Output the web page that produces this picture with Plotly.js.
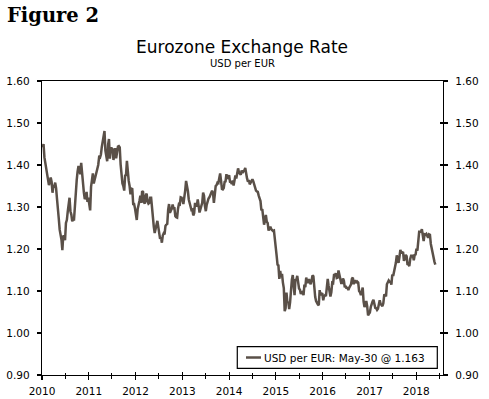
<!DOCTYPE html>
<html>
<head>
<meta charset="utf-8">
<script src="https://cdn.plot.ly/plotly-3.0.1.min.js"></script>
<style>html,body{margin:0;padding:0;background:#fff;}#chart{width:489px;height:399px;}</style>
</head>
<body>
<div id="chart"></div>
<script>
// Weekly USD per EUR (Wednesdays), first observation 2010-01-06, last 2018-05-30
const startDate = '2010-01-06';
const seriesName = 'USD per EUR';
const usd2010 = [1.442,1.450,1.418,1.405, 1.392,1.374,1.358,1.352, 1.362,1.370,1.360,1.334,1.350, 1.349,1.358,1.345,1.320,
  1.285,1.272,1.246,1.236, 1.222,1.197,1.232,1.230,1.221, 1.262,1.269,1.289,1.305, 1.322,1.290,1.282,1.266,
  1.270,1.270,1.308,1.338,1.364, 1.385,1.398,1.387,1.378, 1.405,1.375,1.356,1.334, 1.319,1.322,1.336,1.312,1.322];
const usd2011 = [1.308,1.292,1.348,1.371, 1.380,1.356,1.366,1.378, 1.389,1.391,1.400,1.419,1.418, 1.425,1.443,1.453,1.466,
  1.481,1.434,1.421,1.409, 1.448,1.462,1.415,1.440,1.440, 1.438,1.412,1.425,1.440, 1.416,1.434,1.444,1.445,1.442,
  1.401,1.368,1.356,1.350, 1.339,1.375,1.376,1.410, 1.380,1.362,1.350,1.330,1.344, 1.343,1.307,1.307,1.297];
const usd2012 = [1.280,1.269,1.295,1.310, 1.315,1.327,1.310,1.338,1.336, 1.311,1.308,1.327,1.332, 1.313,1.308,1.310,1.322,
  1.322,1.292,1.270,1.253,1.238, 1.252,1.258,1.267,1.248, 1.240,1.224,1.228,1.215, 1.232,1.237,1.235,1.255,1.258,
  1.260,1.293,1.307,1.286, 1.290,1.296,1.306,1.297,1.297, 1.278,1.276,1.275,1.296, 1.307,1.306,1.323,1.322];
const usd2013 = [1.317,1.307,1.334,1.339,1.362, 1.352,1.338,1.318,1.308, 1.304,1.293,1.294,1.280, 1.285,1.310,1.303,1.303,
  1.318,1.303,1.287,1.295,1.306, 1.310,1.334,1.327,1.303, 1.290,1.305,1.315,1.320,1.323, 1.330,1.333,1.339,1.334,
  1.310,1.329,1.350,1.352, 1.358,1.357,1.368,1.380,1.363, 1.343,1.342,1.345,1.360, 1.361,1.378,1.367,1.370];
const usd2014 = [1.376,1.360,1.359,1.355,1.363, 1.351,1.361,1.375,1.368, 1.383,1.392,1.382,1.378, 1.377,1.387,1.381,1.385,1.387,
  1.393,1.374,1.368,1.360, 1.364,1.354,1.359,1.362, 1.366,1.361,1.353,1.346,1.339, 1.337,1.336,1.327,1.319,
  1.314,1.292,1.295,1.276, 1.258,1.269,1.281,1.265,1.262, 1.244,1.248,1.253,1.247, 1.245,1.243,1.244,1.218,1.210];
const usd2015 = [1.184,1.163,1.161,1.129, 1.148,1.133,1.141,1.120, 1.107,1.052,1.059,1.096, 1.072,1.074,1.057,1.073,1.113,
  1.127,1.138,1.109,1.090, 1.128,1.126,1.136,1.116, 1.106,1.103,1.093,1.097,1.098, 1.090,1.115,1.109,1.132,
  1.121,1.121,1.128,1.119,1.116, 1.125,1.137,1.135,1.104, 1.086,1.076,1.070,1.068, 1.066,1.102,1.090,1.094,1.093];
const usd2016 = [1.078,1.088,1.090,1.088, 1.121,1.129,1.112,1.100, 1.087,1.097,1.120,1.119,1.138, 1.138,1.142,1.131,1.132,
  1.149,1.138,1.121,1.119, 1.119,1.130,1.125,1.109,1.112, 1.106,1.109,1.102,1.108, 1.114,1.116,1.129,1.132,1.116,
  1.124,1.124,1.119,1.122, 1.120,1.100,1.097,1.090, 1.099,1.108,1.075,1.062,1.066, 1.076,1.064,1.042,1.046];
const usd2017 = [1.049,1.062,1.070,1.075, 1.079,1.066,1.060,1.059, 1.055,1.058,1.073,1.078,1.069, 1.066,1.064,1.071,1.090,
  1.091,1.087,1.116,1.119,1.125, 1.122,1.121,1.115,1.139, 1.136,1.147,1.151,1.167, 1.185,1.174,1.167,1.181,1.198,
  1.192,1.191,1.193,1.172, 1.176,1.186,1.183,1.162, 1.164,1.159,1.176,1.184,1.184, 1.184,1.173,1.186,1.187];
const usd2018 = [1.201,1.196,1.226,1.241,1.241, 1.241,1.247,1.228,1.219, 1.235,1.234,1.236,1.231, 1.227,1.235,1.234,1.212,
  1.200,1.186,1.179,1.170,1.163];

const yTickVals = [0.90,1.00,1.10,1.20,1.30,1.40,1.50,1.60];

const values = [].concat(usd2010,usd2011,usd2012,usd2013,usd2014,usd2015,usd2016,usd2017,usd2018);
const t0 = Date.parse(startDate + 'T00:00:00Z');
const dates = values.map((v,i) => new Date(t0 + i*7*86400000).toISOString().slice(0,10));

const lastDate = new Date(dates[dates.length-1] + 'T00:00:00Z');
const mon = ['Jan','Feb','Mar','Apr','May','Jun','Jul','Aug','Sep','Oct','Nov','Dec'][lastDate.getUTCMonth()];
const legendText = seriesName + ': ' + mon + '-' + lastDate.getUTCDate() + ' @ ' + values[values.length-1].toFixed(3);

const lineColor = '#5a5048';
const FONT = 'DejaVu Sans, Verdana, sans-serif';
const xRange = ['2010-01-01','2018-07-29'];
const yRange = [0.90,1.60];

const trace = {x: dates, y: values, type: 'scatter', mode: 'lines', name: seriesName,
  line: {color: lineColor, width: 2.5}, showlegend: false, hoverinfo: 'x+y'};

const layout = {
  width: 489, height: 399,
  margin: {l: 42, r: 46, t: 81, b: 24, pad: 0},
  paper_bgcolor: '#fff', plot_bgcolor: '#fff',
  font: {family: FONT, size: 10.5, color: '#000'},
  title: {text: 'Eurozone Exchange Rate', font: {family: FONT, size: 17, color: '#000'},
    xref: 'container', x: 0.495, xanchor: 'center', yref: 'container', y: 0.882, yanchor: 'middle'},
  xaxis: {type: 'date', range: xRange, showgrid: false, zeroline: false,
    showline: true, linecolor: '#000', linewidth: 1.2, mirror: true,
    tick0: '2010-01-01', dtick: 'M12', tickformat: '%Y', ticks: 'outside', ticklen: 4, tickwidth: 1.2, tickcolor: '#000',
    minor: {dtick: 'M6', ticks: 'outside', ticklen: 3, tickwidth: 1, tickcolor: '#000', showgrid: false},
    tickfont: {family: FONT, size: 10.5, color: '#000'}, ticklabelstandoff: 2},
  xaxis2: {type: 'date', range: xRange, overlaying: 'x', side: 'bottom', showgrid: false, zeroline: false,
    showticklabels: false, tick0: '2010-01-01', dtick: 'M12', ticks: 'inside', ticklen: 3, tickwidth: 1.2, tickcolor: '#000',
    minor: {dtick: 'M6', ticks: 'inside', ticklen: 2, tickwidth: 1, tickcolor: '#000', showgrid: false}},
  yaxis: {range: yRange, tickvals: yTickVals, tickformat: '.2f', showgrid: false, zeroline: false,
    showline: true, linecolor: '#000', linewidth: 1.2, ticks: 'outside', ticklen: 4, tickwidth: 1.2, tickcolor: '#000',
    tickfont: {family: FONT, size: 10.5, color: '#000'}, ticklabelstandoff: 5},
  yaxis2: {range: yRange, tickvals: yTickVals, tickformat: '.2f', overlaying: 'y', side: 'right', anchor: 'x',
    showgrid: false, zeroline: false, showline: true, linecolor: '#000', linewidth: 1.2,
    ticks: 'outside', ticklen: 4, tickwidth: 1.2, tickcolor: '#000',
    tickfont: {family: FONT, size: 10.5, color: '#000'}, ticklabelstandoff: 5},
  yaxis3: {range: yRange, tickvals: yTickVals, overlaying: 'y', side: 'right', anchor: 'x',
    showgrid: false, zeroline: false, showticklabels: false, ticks: 'inside', ticklen: 3, tickwidth: 1.2, tickcolor: '#000'},
  shapes: [
    {type: 'rect', xref: 'paper', yref: 'paper', x0: 0.487, x1: 0.9858, y0: 0.0228, y1: 0.0963,
      line: {color: '#000', width: 1.2}, fillcolor: '#fff', layer: 'above'},
    {type: 'line', xref: 'paper', yref: 'paper', x0: 0.5087, x1: 0.5461, y0: 0.0595, y1: 0.0595,
      line: {color: lineColor, width: 2.5}, layer: 'above'}
  ],
  annotations: [
    {text: '<b>Figure 2</b>', xref: 'paper', yref: 'paper', x: -0.0923, y: 1.222, xanchor: 'left', yanchor: 'middle',
      showarrow: false, font: {family: 'DejaVu Serif, serif', size: 19.5, color: '#000'}},
    {text: 'USD per EUR', xref: 'paper', yref: 'paper', x: 0.4988, y: 1.0595, xanchor: 'center', yanchor: 'middle',
      showarrow: false, font: {family: FONT, size: 10, color: '#000'}},
    {text: legendText, xref: 'paper', yref: 'paper', x: 0.5486, y: 0.0595, xanchor: 'left', yanchor: 'middle',
      showarrow: false, font: {family: FONT, size: 10.5, color: '#000'}}
  ]
};

const ghost2 = {x: [dates[0]], y: [values[0]], xaxis: 'x2', yaxis: 'y2', mode: 'markers', marker: {opacity: 0}, showlegend: false, hoverinfo: 'skip'};
const ghost3 = {x: [dates[0]], y: [values[0]], xaxis: 'x', yaxis: 'y3', mode: 'markers', marker: {opacity: 0}, showlegend: false, hoverinfo: 'skip'};

Plotly.newPlot('chart', [trace, ghost2, ghost3], layout, {displayModeBar: false, staticPlot: true});
</script>
</body>
</html>
